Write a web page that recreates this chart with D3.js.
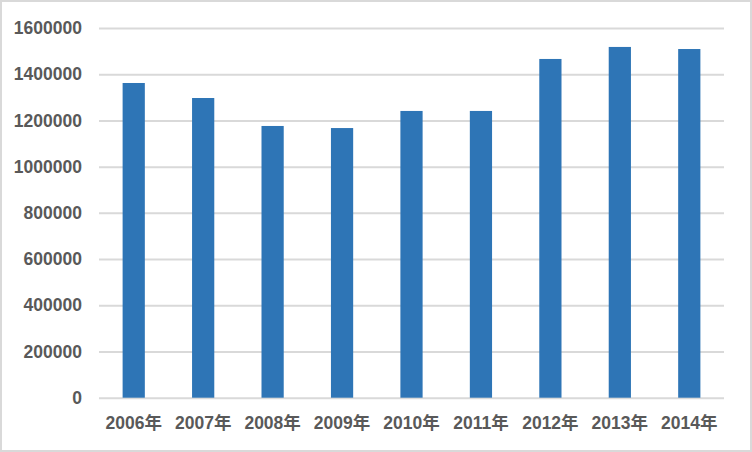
<!DOCTYPE html>
<html><head><meta charset="utf-8">
<script src="https://cdn.jsdelivr.net/npm/d3@7"></script>
<style>body{margin:0;background:#fff;}svg{display:block;}</style>
</head><body>
<script>
const categories = ["2006年","2007年","2008年","2009年","2010年","2011年","2012年","2013年","2014年"];
const values = [1362000,1297000,1176000,1167000,1241000,1241000,1466000,1518000,1509000];
const yTicks = [0,200000,400000,600000,800000,1000000,1200000,1400000,1600000];

const W = 752, H = 452;
const svg = d3.select("body").append("svg").attr("width", W).attr("height", H);
svg.append("rect").attr("x",1).attr("y",1).attr("width",W-2).attr("height",H-2)
  .attr("fill","#fff").attr("stroke","#d9d9d9").attr("stroke-width",2);

const mLeft = 99, mRight = 724, mTop = 28, mBottom = 397.7;
const x = d3.scaleBand().domain(categories).range([mLeft,mRight]).paddingInner(0.68).paddingOuter(0.34);
const y = d3.scaleLinear().domain([0,1600000]).range([mBottom, mTop]);
const font = "'Liberation Sans', Arial, 'Noto Sans CJK SC', sans-serif";

const yAxis = svg.append("g").attr("transform",`translate(${mLeft},0)`)
  .call(d3.axisLeft(y).tickValues(yTicks).tickFormat(d3.format("d")).tickSize(-(mRight-mLeft)).tickPadding(17));
yAxis.select(".domain").remove();
yAxis.selectAll(".tick line").attr("stroke","#d9d9d9").attr("stroke-width",2);
yAxis.selectAll(".tick text").attr("fill","#595959").attr("font-family",font)
  .attr("font-size",17.5).attr("font-weight","bold");

svg.append("g").selectAll("rect").data(values).join("rect")
  .attr("x",(d,i)=>x(categories[i]))
  .attr("width",x.bandwidth())
  .attr("y",d=>y(d))
  .attr("height",d=>y(0)-y(d))
  .attr("fill","#2e75b6");

const xAxis = svg.append("g").attr("transform",`translate(0,${mBottom})`)
  .call(d3.axisBottom(x).tickSize(0).tickPadding(19));
xAxis.select(".domain").remove();
xAxis.selectAll(".tick text").attr("fill","#595959").attr("font-family",font)
  .attr("font-size",17.5).attr("font-weight","bold");
</script>
</body></html>
